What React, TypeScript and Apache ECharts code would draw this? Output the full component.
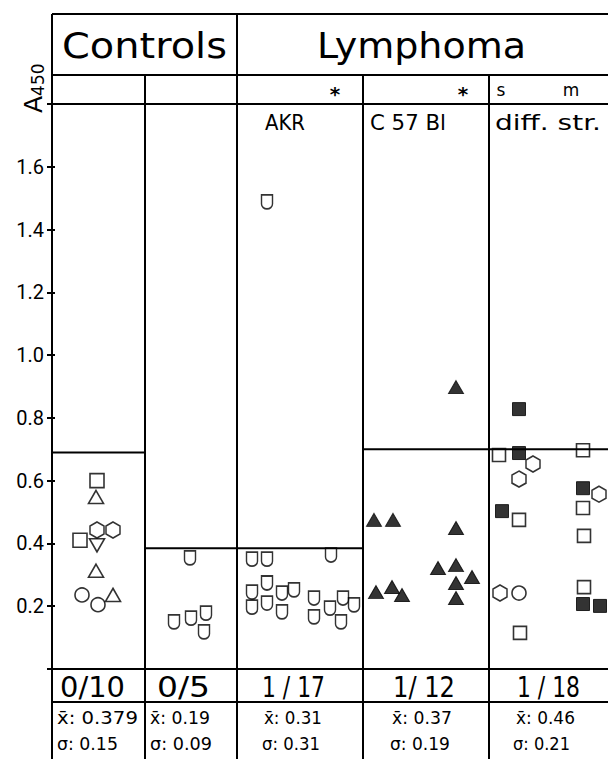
import React, { useEffect, useRef } from "react";
import * as echarts from "echarts";

// ---------- data ----------
const groupTitles = ["Controls", "Lymphoma"];
const subTitles = ["AKR", "C 57 Bl", "diff. str."];
const countLabels = ["0/10", "0/5", "1 / 17", "1/ 12", "1 / 18"];
const meanLabels = ["0.379", "0.19", "0.31", "0.37", "0.46"];
const sdLabels = ["0.15", "0.09", "0.31", "0.19", "0.21"];

// column boundaries along the x axis (plot units) and each column's cut-off value
const columnEdges = [0, 93, 185, 311, 437, 556];
const cutoffs = [0.69, 0.385, 0.385, 0.7, 0.7];

// points: [x position in plot units, A450]
const controlsOpenSquare = [[45, 0.6], [28, 0.41]];
const controlsTriangleUp = [[44, 0.548], [44, 0.313], [61, 0.236]];
const controlsTriangleDown = [[45, 0.394]];
const controlsHexagon = [[45, 0.443], [61, 0.443]];
const controlsCircle = [[30, 0.236], [46, 0.205]];

const controls2Shield = [[138, 0.354], [122, 0.15], [139, 0.162], [154, 0.178], [152, 0.118]];

const akrShield = [
  [215, 1.488], [200, 0.35], [215, 0.35], [279, 0.363], [200, 0.245], [215, 0.274],
  [230, 0.242], [242, 0.252], [200, 0.197], [215, 0.21], [230, 0.182], [262, 0.226],
  [262, 0.166], [278, 0.194], [291, 0.226], [302, 0.204], [289, 0.15],
];

const c57FilledTriangle = [
  [322, 0.475], [341, 0.475], [404, 0.449], [386, 0.322], [404, 0.331], [420, 0.293],
  [404, 0.274], [404, 0.226], [324, 0.245], [340, 0.261], [350, 0.236], [404, 0.898],
];

const diffOpenSquare = [[447, 0.682], [467, 0.475], [468, 0.115], [531, 0.697], [531, 0.513], [532, 0.424], [532, 0.261]];
const diffFilledSquare = [[467, 0.688], [450, 0.503], [531, 0.576], [531, 0.207], [548, 0.201], [467, 0.828]];
const diffHexagon = [[481, 0.653], [467, 0.605], [448, 0.242], [547, 0.557]];
const diffCircle = [[467, 0.242]];

// ---------- styles ----------
const FONT = '"DejaVu Sans", sans-serif';
const HEX = "path://M0,-1 L0.866,-0.5 L0.866,0.5 L0,1 L-0.866,0.5 L-0.866,-0.5 Z";
const SHIELD = "path://M0,0 L10,0 L10,9 A5,5 0 0 1 0,9 Z";
const openStyle = { color: "rgba(0,0,0,0)", borderColor: "#000", borderWidth: 1.6 };
const filledStyle = { color: "#000", borderColor: "#000", borderWidth: 1 };

function scatter(name: string, data: number[][], symbol: string, size: any, style: any, rotate = 0) {
  return {
    type: "scatter",
    name,
    data,
    symbol,
    symbolSize: size,
    symbolRotate: rotate,
    itemStyle: style,
    silent: true,
    z: 5,
  };
}

let measureCtx: CanvasRenderingContext2D | null = null;
function measure(text: string, fs: number, family = FONT, weight = "normal") {
  if (!measureCtx) measureCtx = document.createElement("canvas").getContext("2d");
  measureCtx!.font = `${weight} ${fs}px ${family}`;
  return measureCtx!.measureText(text).width || 1;
}

function fitText(text: string, l: number, r: number, cy: number, fs: number) {
  const w = measure(text, fs);
  return {
    type: "text",
    x: l,
    y: cy,
    scaleX: (r - l) / w,
    silent: true,
    style: { text, fontSize: fs, fontFamily: FONT, fill: "#000", textAlign: "left", textVerticalAlign: "middle" },
    z: 10,
  };
}

function centerText(text: string, cx: number, cy: number, fs: number, weight = "normal") {
  return {
    type: "text",
    x: cx,
    y: cy,
    silent: true,
    style: { text, fontSize: fs, fontFamily: FONT, fontWeight: weight, fill: "#000", textAlign: "center", textVerticalAlign: "middle" },
    z: 10,
  };
}

function hline(x1: number, x2: number, y: number) {
  return { type: "line", silent: true, z: 8, shape: { x1, y1: y, x2, y2: y }, style: { stroke: "#000", lineWidth: 2 } };
}
function vline(x: number, y1: number, y2: number) {
  return { type: "line", silent: true, z: 8, shape: { x1: x, y1, x2: x, y2 }, style: { stroke: "#000", lineWidth: 2 } };
}

// layout of texts (pixels)
const headerBox = [
  [62, 227],
  [317, 526],
];
const subBox = [
  [265, 305],
  [370, 446],
  [495, 601],
];
const countBox = [[60, 125], [157, 210], [262, 325], [393, 455], [517, 580]];
const meanBox = [[57, 138], [150, 210], [264, 322], [392, 452], [516, 575]];
const sdBox = [[57, 118], [150, 212], [262, 320], [390, 450], [513, 570]];

export default function App() {
  const ref = useRef<HTMLDivElement>(null);

  useEffect(() => {
    const chart = echarts.init(ref.current!, null, { renderer: "svg" });

    const cutoffSeries = cutoffs.map((t, i) => ({
      type: "line",
      data: [[columnEdges[i], t], [columnEdges[i + 1], t]],
      symbol: "none",
      silent: true,
      lineStyle: { color: "#000", width: 2 },
      z: 4,
    }));

    chart.setOption({
      animation: false,
      backgroundColor: "#fff",
      grid: { left: 52, top: 104, width: 556, height: 565 },
      xAxis: {
        type: "value",
        min: columnEdges[0],
        max: columnEdges[columnEdges.length - 1],
        show: false,
      },
      yAxis: [
        {
          type: "value",
          min: 0,
          max: 1.8,
          interval: 0.2,
          name: "{a|A}{b|450}",
          nameLocation: "end",
          nameRotate: 90,
          nameGap: -9,
          nameTextStyle: {
            color: "#000",
            padding: [0, 0, 38, 0],
            rich: {
              a: { fontSize: 25, fontFamily: FONT, color: "#000", verticalAlign: "bottom", lineHeight: 26 },
              b: { fontSize: 17, fontFamily: FONT, color: "#000", verticalAlign: "bottom", lineHeight: 22 },
            },
          },
          axisLine: { show: true, lineStyle: { color: "#000", width: 2 } },
          axisTick: { show: true, length: 5, lineStyle: { color: "#000", width: 2 } },
          splitLine: { show: false },
          axisLabel: {
            color: "#000",
            fontFamily: "Roboto, sans-serif",
            fontSize: 20,
            margin: 8,
            formatter: (v: number) => (v < 0.01 || v > 1.79 ? "" : v.toFixed(1)),
          },
        },
        {
          type: "value",
          position: "left",
          min: 0,
          max: 1.8,
          interval: 0.2,
          axisLine: { show: false },
          axisTick: { show: true, inside: true, length: 3, lineStyle: { color: "#000", width: 2 } },
          axisLabel: { show: false },
          splitLine: { show: false },
        },
      ],
      series: [
        ...cutoffSeries,
        scatter("controls square", controlsOpenSquare, "rect", 14, openStyle),
        scatter("controls triangle", controlsTriangleUp, "triangle", [15, 13], openStyle),
        scatter("controls triangle down", controlsTriangleDown, "triangle", [15, 13], openStyle, 180),
        scatter("controls hexagon", controlsHexagon, HEX, [14, 16], openStyle),
        scatter("controls circle", controlsCircle, "circle", 14, openStyle),
        scatter("controls 2", controls2Shield, SHIELD, [11, 14], openStyle),
        scatter("AKR", akrShield, SHIELD, [11, 14], openStyle),
        scatter("C 57 Bl", c57FilledTriangle, "triangle", [15, 13], filledStyle),
        scatter("diff open square", diffOpenSquare, "rect", 13, openStyle),
        scatter("diff filled square", diffFilledSquare, "rect", 13, filledStyle),
        scatter("diff hexagon", diffHexagon, HEX, [14, 16], openStyle),
        scatter("diff circle", diffCircle, "circle", 14, openStyle),
      ],
    });

    const px = (v: number) => chart.convertToPixel({ xAxisIndex: 0 }, v) as number;
    const py = (v: number) => chart.convertToPixel({ yAxisIndex: 0 }, v) as number;
    const xs = columnEdges.map(px);
    const yTop = py(1.8);
    const yBottom = py(0);
    const yHead1 = 14;
    const yHead2 = 75;
    const yCount = yBottom + 33;
    const H = 759;

    const g: any[] = [];
    g.push(hline(xs[0], xs[5], yHead1));
    g.push(hline(xs[0], xs[5], yHead2));
    g.push(hline(xs[0], xs[5], yTop));
    g.push(hline(xs[0], xs[5], yBottom));
    g.push(hline(xs[0], xs[5], yCount));
    g.push(vline(xs[0], yHead1, H));
    g.push(vline(xs[2], yHead1, H));
    g.push(vline(xs[1], yHead2, H));
    g.push(vline(xs[3], yHead2, H));
    g.push(vline(xs[4], yHead2, H));

    groupTitles.forEach((t, i) => g.push(fitText(t, headerBox[i][0], headerBox[i][1], (yHead1 + yHead2) / 2 + 1, 36)));
    subTitles.forEach((t, i) => g.push(fitText(t, subBox[i][0], subBox[i][1], yTop + 19, 21)));

    const rowMid = (yHead2 + yTop) / 2;
    g.push(centerText("*", 335, rowMid + 4, 20, "bold"));
    g.push(centerText("*", 463, rowMid + 4, 20, "bold"));
    g.push(centerText("s", 501, rowMid, 17));
    g.push(centerText("m", 571, rowMid, 17));

    countLabels.forEach((t, i) => g.push(fitText(t, countBox[i][0], countBox[i][1], (yBottom + yCount) / 2 + 1, 29)));
    meanLabels.forEach((t, i) => g.push(fitText("x\u0304: " + t, meanBox[i][0], meanBox[i][1], yCount + 16, 17)));
    sdLabels.forEach((t, i) => g.push(fitText("\u03c3: " + t, sdBox[i][0], sdBox[i][1], yCount + 42, 17)));

    chart.setOption({ graphic: g });

    return () => chart.dispose();
  }, []);

  return (
    <div
      ref={ref}
      style={{ position: "fixed", left: 0, top: 0, width: 608, height: 759, background: "#fff" }}
    />
  );
}
